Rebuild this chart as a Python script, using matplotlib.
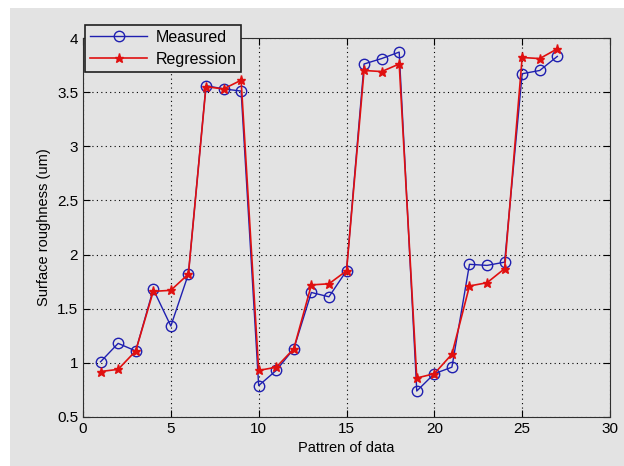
import matplotlib.pyplot as plt
from matplotlib.patches import Rectangle

plt.rcParams['font.family'] = ['Liberation Sans', 'DejaVu Sans']

pattern = list(range(1, 28))
measured = [1.01, 1.18, 1.11, 1.68, 1.34, 1.82, 3.56, 3.53, 3.51,
            0.79, 0.93, 1.13, 1.65, 1.61, 1.85, 3.76, 3.81, 3.87,
            0.74, 0.90, 0.96, 1.91, 1.90, 1.93, 3.67, 3.70, 3.83]
regression = [0.92, 0.94, 1.11, 1.66, 1.67, 1.82, 3.55, 3.53, 3.61,
              0.93, 0.96, 1.13, 1.72, 1.73, 1.85, 3.70, 3.69, 3.76,
              0.86, 0.90, 1.08, 1.71, 1.74, 1.87, 3.82, 3.81, 3.90]

bg = '#e3e3e3'
fig = plt.figure(figsize=(6.24, 4.66), dpi=100, facecolor='white')
# grey panel with a thin white margin on the left and top
fig.patches.append(Rectangle((10 / 624, 0), 1, 1 - 8 / 466, transform=fig.transFigure,
                             facecolor=bg, edgecolor='none', zorder=-1))

ax = fig.add_axes([83 / 624, 1 - 417 / 466, (610 - 83) / 624, (417 - 38) / 466])
ax.set_facecolor(bg)

ax.plot(pattern, measured, '-o', color='#1f1fb0', lw=1.0, ms=7.5,
        mfc='none', mew=1.0, label='Measured')
ax.plot(pattern, regression, '-*', color='#e01010', lw=1.2, ms=6.5,
        label='Regression')

ax.set_xlim(0, 30)
ax.set_ylim(0.5, 4)
ax.set_xticks(range(0, 31, 5))
ax.set_yticks([0.5, 1, 1.5, 2, 2.5, 3, 3.5, 4])
ax.set_yticklabels(['0.5', '1', '1.5', '2', '2.5', '3', '3.5', '4'])
ax.tick_params(direction='in', top=True, right=True, length=5, labelsize=11)
ax.grid(True, ls=(0, (1, 3)), color='black', lw=0.8)
for s in ax.spines.values():
    s.set_color('#303030')

ax.set_xlabel('Pattren of data', fontsize=10.5)
ax.set_ylabel('Surface roughness (um)', fontsize=10.5)

leg = ax.legend(loc='upper left', bbox_to_anchor=(85 / 624, 1 - 25 / 466),
                bbox_transform=fig.transFigure, fancybox=False, framealpha=1,
                facecolor=bg, edgecolor='#202020', fontsize=11.5,
                handlelength=3.6, handletextpad=0.5, borderaxespad=0,
                borderpad=0.3, labelspacing=0.45)
leg.get_frame().set_linewidth(1.2)

fig.savefig('out.png', dpi=100, facecolor=fig.get_facecolor())
